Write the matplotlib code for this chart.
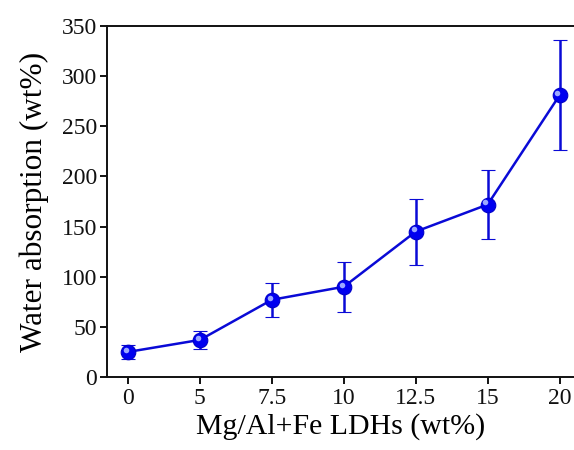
import numpy as np
import matplotlib as mpl
mpl.use("Agg")
import matplotlib.pyplot as plt
import matplotlib.transforms as mtrans

mpl.rcParams.update({"font.family": "serif", "font.serif": ["Liberation Serif", "DejaVu Serif"]})

loading = ["0", "5", "7.5", "10", "12.5", "15", "20"]
absorption = [25, 37, 77, 90, 145, 172, 281]
err = [7, 9, 17, 25, 33, 34, 55]
yticks = [0, 50, 100, 150, 200, 250, 300, 350]

BLUE = "#0A0AD6"
fig = plt.figure(figsize=(5.74, 4.5), dpi=100)
ax = fig.add_axes([0.1864, 0.1622, 0.8136, 0.78])
x = np.arange(len(loading))
ax.errorbar(x, absorption, yerr=err, color=BLUE, lw=1.8, elinewidth=1.8, capsize=5,
            capthick=1.8, marker="o", ms=10.5, mfc="#0000F0", mec="#0000C8", mew=0.8, zorder=3)
# little highlight to mimic the shaded spheres
hl = mtrans.offset_copy(ax.transData, fig=fig, x=-1.6, y=1.6, units="points")
ax.plot(x, absorption, ls="none", marker="o", ms=4, mfc="#9CA8FF", mec="none", transform=hl, zorder=4)

ax.set_xlim(-0.292, 6.2)
ax.set_ylim(0, 350)
ax.set_xticks(x)
ax.set_xticklabels(loading)
ax.set_yticks(yticks)
ax.spines["right"].set_visible(False)
for s in ["left", "bottom", "top"]:
    ax.spines[s].set_linewidth(1.4)
    ax.spines[s].set_color("#111111")
ax.tick_params(direction="out", length=5, width=1.4, labelsize=17, pad=3, colors="#111111")
ax.tick_params(axis="y", pad=2)
ax.set_xlabel("Mg/Al+Fe LDHs (wt%)", fontsize=21.5, labelpad=3)
ax.set_ylabel("Water absorption (wt%)", fontsize=22.5, labelpad=9)
fig.savefig("out.png", dpi=100)
